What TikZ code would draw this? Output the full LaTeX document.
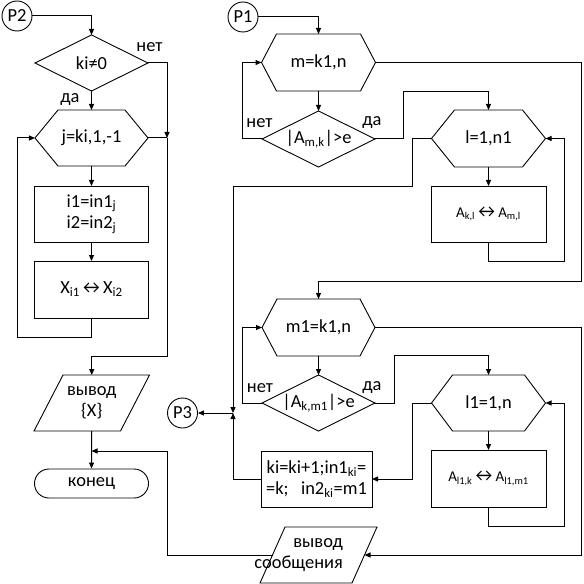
\documentclass[tikz,border=0pt]{standalone}
\usepackage{fontspec}
\setmainfont{Carlito}
\usetikzlibrary{arrows.meta,calc}
\tikzset{
  shp/.style={draw, line width=0.9bp},
  con/.style={line width=1bp},
  arr/.style={con, -{Triangle[length=6bp,width=5bp]}},
  lbl/.style={inner sep=0pt},
  anchorbox/.style 2 args={minimum width=#1, minimum height=#2, inner sep=0pt, outer sep=0pt, align=center},
  rbox/.style 2 args={draw, line width=0.9bp, minimum width=#1, minimum height=#2, inner sep=0pt, outer sep=0pt, align=center},
  conn/.style={draw, line width=0.9bp, circle, minimum size=30bp, inner sep=0pt},
  smallfont/.style={font=\fontsize{15}{17}\selectfont},
}
\newcommand{\lrarr}{\kern-0.3bp{\fontsize{18.5}{18.5}\selectfont ↔}\kern-0.3bp}
\newcommand{\hexnode}[7]{%
  \node[anchorbox={#4bp}{#5bp}] (#1) at (#2,#3) {#7};
  \draw[shp] (#1.west) -- ([xshift=#6bp]#1.north west) -- ([xshift=-#6bp]#1.north east) -- (#1.east) -- ([xshift=-#6bp]#1.south east) -- ([xshift=#6bp]#1.south west) -- cycle;}
\newcommand{\dianode}[6]{%
  \node[anchorbox={#4bp}{#5bp}] (#1) at (#2,#3) {#6};
  \draw[shp] (#1.west) -- (#1.north) -- (#1.east) -- (#1.south) -- cycle;}
\newcommand{\paranode}[7]{%
  \node[anchorbox={#4bp}{#5bp}] (#1) at (#2,#3) {#7};
  \draw[shp] ([xshift=#6bp]#1.north west) -- ([xshift=#6bp]#1.north east) -- ([xshift=-#6bp]#1.south east) -- ([xshift=-#6bp]#1.south west) -- cycle;}
\begin{document}
\begin{tikzpicture}[x=1bp,y=-1bp,font=\fontsize{18.5}{21.5}\selectfont]
\useasboundingbox (0,0) rectangle (584,584);
% left column
\node[conn] (p2) at (17,16) {P2};
\dianode{d1}{91.5}{63}{113}{56}{ki≠0}
\hexnode{h1}{91.5}{138}{113}{56}{23}{j=ki,1,-1}
\node[rbox={114bp}{56bp}] (b1) at (91.5,214) {i1=in1\textsubscript{j}\\i2=in2\textsubscript{j}};
\node[rbox={114bp}{57bp}] (b2) at (91.5,289.5) {X\textsubscript{i1}\lrarr X\textsubscript{i2}};
\paranode{o1}{91.75}{403}{86.5}{56}{14.5}{вывод\\\{X\}}
\node[draw, line width=0.9bp, rounded corners=14.5bp, minimum width=114bp, minimum height=29bp, inner sep=0pt] (e) at (91.5,483.5) {конец};
% right column
\node[conn] (p1) at (243,17) {P1};
\hexnode{h2}{318.5}{62.5}{114}{57}{15}{m=k1,n}
\dianode{d2}{318.5}{139}{113}{56}{|A\textsubscript{m,k}|>e}
\hexnode{h3}{488.5}{138.5}{114}{57}{23}{l=1,n1}
\node[rbox={115bp}{56bp}, smallfont] (b3) at (488.5,214) {A\textsubscript{k,l}\lrarr A\textsubscript{m,l}};
\hexnode{h4}{318.5}{327.5}{113}{57}{15}{m1=k1,n}
\dianode{d3}{318.5}{403}{113}{56}{|A\textsubscript{k,m1}|>e}
\hexnode{h5}{488.5}{403}{114}{56}{21}{l1=1,n}
\node[rbox={115bp}{57bp}, smallfont] (b4) at (488.5,478.5) {A\textsubscript{l1,k}\lrarr A\textsubscript{l1,m1}};
\node[rbox={111bp}{56bp}] (b5) at (316.5,479) {ki=ki+1;in1\textsubscript{ki}=\\=k;\ \ \ in2\textsubscript{ki}=m1};
\paranode{o2}{318.5}{555}{92}{56}{12.5}{}
\node[lbl, align=right, anchor=east] (o2t) at (343,555) {вывод\\сообщения};
\node[conn] (p3) at (182.5,413) {P3};
% junctions
\coordinate (j1) at (167,138);
\coordinate (j2) at (91.5,451);
\coordinate (j3) at (233,413);
% labels
\node[lbl] (n1) at (149.5,47) {нет};
\node[lbl] (y1) at (70,100) {да};
\node[lbl] (n2) at (259.5,123) {нет};
\node[lbl] (y2) at (372,123) {да};
\node[lbl] (n3) at (260,388) {нет};
\node[lbl] (y3) at (372,388) {да};
% left connectors
\draw[arr] (p2.east) -| (d1.north);
\draw[arr] (d1.south) -- (h1.north);
\draw[arr] (d1.east) -| (j1);
\draw[con] (h1.east) -- (j1);
\draw[arr] (j1) -- (167,356) -| (o1.north);
\draw[arr] (h1.south) -- (b1.north);
\draw[arr] (b1.south) -- (b2.north);
\draw[arr] (b2.south) -- (91.5,337) -| (17,138) -- (h1.west);
\draw[arr] (o1.south) -- (e.north);
\draw[arr] (o2.west) -| (167,451) -- (j2);
% right connectors
\draw[arr] (p1.east) -| (h2.north);
\draw[arr] (h2.south) -- (d2.north);
\draw[arr] (d2.west) -- (242,139) |- (h2.west);
\draw[arr] (d2.east) -- (403,139) -- (403,92) -| (h3.north);
\draw[arr] (h3.south) -- (b3.north);
\draw[arr] (b3.south) -- (488.5,261) -| (564,138.5) -- (h3.east);
\draw[arr] (h3.west) -- (412,138.5) -- (412,186) -| (j3);
\draw[arr] (h2.east) -| (581,281) -| (h4.north);
\draw[arr] (h4.south) -- (d3.north);
\draw[arr] (d3.west) -- (242,403) |- (h4.west);
\draw[arr] (d3.east) -- (394,403) -- (394,355) -| (h5.north);
\draw[arr] (h5.south) -- (b4.north);
\draw[arr] (b4.south) -- (488.5,526) -| (564,403) -- (h5.east);
\draw[arr] (h5.west) -- (412,403) |- (b5.east);
\draw[arr] (b5.west) -| (j3);
\draw[arr] (j3) -- (p3.east);
\draw[arr] (h4.east) -| (581,555) -- (o2.east);
\end{tikzpicture}
\end{document}
